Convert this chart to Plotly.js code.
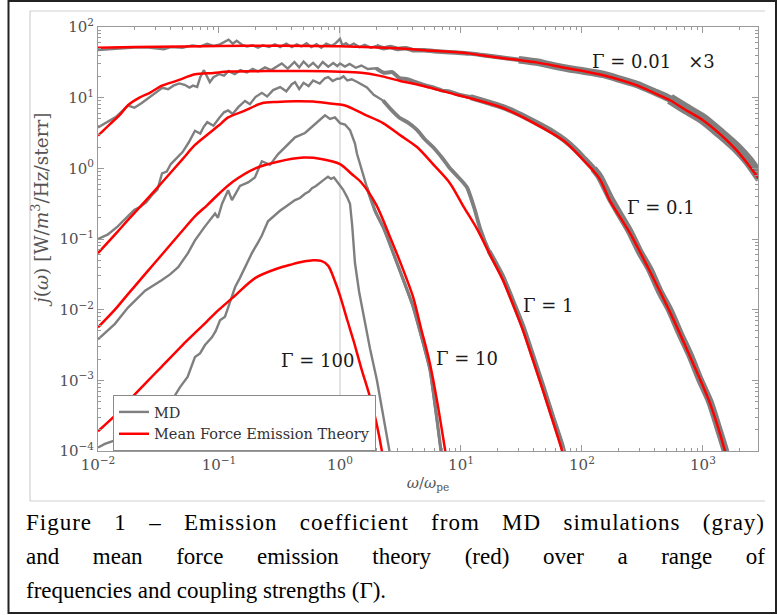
<!DOCTYPE html>
<html>
<head>
<meta charset="utf-8">
<script src="https://cdn.plot.ly/plotly-3.0.1.min.js"></script>
<style>
  html, body { margin: 0; padding: 0; background: #ffffff; }
  #chart { width: 777px; height: 615px; }
</style>
</head>
<body>
<div id="chart"></div>
<script>
// ---------------- DATA ----------------
// Mean force emission theory (red)
const thG001X = [0.01,0.02,0.05,0.1,0.3,1,3,5,10,12,20,30,42,70,100,150,285,400,534,700,1000,1400,1900,2400,2850,3000];
const thG001Y = [51,52,53,54,54.5,53.5,50,47,43.5,42,37,34,31.6,26.8,24,20.8,14.9,11.5,9.2,6.9,4.8,3.0,1.8,1.1,0.74,0.65];

const thG01X = [0.01,0.0125,0.015,0.0177,0.022,0.027,0.0338,0.045,0.0633,0.09,0.12,0.2,0.3,0.5,1,1.5,2.1,3.1,5,8,12,22,42,72,105,140,170,250,364,533,780,1140,1520,1700];
const thG01Y = [2.9,4.2,5.6,7.8,10,11.8,14.8,17.4,21.4,22.4,23.4,23.7,23.8,23.8,23.3,22.5,20.5,17.4,14.5,11.7,9.8,7.2,4.2,2.4,1.26,0.71,0.35,0.12,0.035,0.0093,0.0022,4.8e-4,1.0e-4,4.5e-5];

const thG1X = [0.01,0.0138,0.0177,0.025,0.0338,0.05,0.0633,0.08,0.1,0.119,0.16,0.226,0.3,0.425,0.6,0.8,1.1,1.6,2.27,3.2,4.33,6,8.1,10.5,13.6,17,22.2,27,32.5,40,47.6,57,68.4,76];
const thG1Y = [0.063,0.115,0.186,0.355,0.631,1.35,2.14,2.99,4.07,5.25,6.46,8.32,8.71,8.91,8.81,8.32,7.76,5.75,4.37,2.88,2.0,1.1,0.617,0.288,0.138,0.0646,0.0263,0.0117,0.00513,0.00178,7.2e-4,2.75e-4,1.02e-4,5.6e-5];

const thG10X = [0.01,0.0138,0.0177,0.025,0.0338,0.05,0.0633,0.08,0.1,0.13,0.2,0.3,0.5,0.7,1,1.25,1.5,2,2.6,3.2,4,4.7,5.5,6.4,7.4,8];
const thG10Y = [0.00562,0.01,0.0166,0.0331,0.0603,0.132,0.209,0.302,0.437,0.646,1.0,1.23,1.42,1.36,1.15,0.832,0.631,0.302,0.105,0.0437,0.0155,0.00525,0.00182,4.68e-4,1.02e-4,4.5e-5];

const thG100X = [0.01,0.0138,0.0177,0.025,0.0338,0.05,0.0633,0.08,0.1,0.13,0.2,0.3,0.4,0.5,0.6,0.7,0.8,0.9,1,1.15,1.3,1.5,1.77,2.0,2.22,2.4];
const thG100Y = [1.9e-4,3.16e-4,5.0e-4,9.3e-4,1.58e-3,3.16e-3,4.68e-3,6.9e-3,0.01,0.0148,0.0282,0.038,0.0437,0.0479,0.0501,0.049,0.0417,0.0263,0.0158,0.00708,0.00355,0.00148,5.8e-4,2.5e-4,1.0e-4,4.0e-5];

// MD simulations (gray)
const mdG001X = [0.01,0.012,0.015,0.02,0.025,0.03,0.035,0.04,0.05,0.06,0.07,0.08,0.09,0.1,0.11,0.12,0.13,0.14,0.155,0.17,0.19,0.21,0.23,0.26,0.29,0.32,0.36,0.4,0.44,0.48,0.53,0.58,0.64,0.7,0.77,0.85,0.92,1.0,1.05,1.12,1.2,1.3,1.45,1.6,1.8,2.0,2.3,2.6,3.0,3.5,4,5,6,8,10,12,16,20,30,42,60,80,100,150,200,285,400,534,700,1000,1400,1900,2400,2850,3000];
const mdG001Y = [47,48,50,51,51.5,50.5,48.5,52,51,55,53,58,54,56,61,66,58,64,56,53,55,51,55,52,57,52,58,52,57,53,59,52,57,51,58,54,59,68,55,59,54,58,52,56,51,54,50,52,49,50,47,47,45.5,44,43,42,39.5,37.5,34.5,32,28,25.5,24,21.3,18.5,15.4,12,9.6,7.2,5,3.1,1.95,1.25,0.82,0.72];

const mdG01X = [0.01,0.012,0.014,0.0177,0.02,0.023,0.027,0.031,0.034,0.038,0.042,0.047,0.052,0.057,0.061,0.066,0.07,0.075,0.079,0.084,0.09,0.1,0.11,0.12,0.135,0.15,0.17,0.19,0.21,0.24,0.27,0.3,0.33,0.37,0.42,0.46,0.5,0.55,0.6,0.66,0.72,0.8,0.88,0.95,1.0,1.1,1.2,1.35,1.5,1.7,2.0,2.3,2.7,3.1,3.6,4.3,5,6,7,8,10,12,16,22,30,42,57,72,88,105,125,140,170,200,250,300,364,440,533,650,780,950,1140,1330,1520,1650];
const mdG01Y = [3.8,4.6,5.3,7.7,7.2,8.4,10.2,12.0,13.8,13.2,14.8,15.9,15.2,13.9,14.8,14.2,19.5,24.5,20,16.6,19.5,21.5,20.5,23.8,21.5,24.5,22.8,25.5,23.5,26.8,24.6,27.5,30.5,25.8,32,26.8,32.5,27.5,31,26.5,32,27.5,31,28,30.5,27.5,30,26.5,28.5,25.5,26,22.5,23,19,18.3,16.4,15.0,13.8,12.6,12.2,10.8,10.2,8.8,7.4,5.9,4.4,3.3,2.5,1.85,1.35,0.98,0.76,0.39,0.24,0.125,0.066,0.037,0.018,0.0098,0.0045,0.0023,0.001,5e-4,2.2e-4,1.05e-4,6e-5];

const mdG1X = [0.01,0.012,0.0145,0.0177,0.02,0.022,0.025,0.028,0.031,0.0338,0.037,0.04,0.045,0.05,0.056,0.0633,0.07,0.075,0.08,0.09,0.1,0.11,0.119,0.13,0.145,0.164,0.18,0.2,0.226,0.25,0.28,0.32,0.36,0.4,0.425,0.46,0.5,0.55,0.6,0.68,0.75,0.8,0.87,0.95,1.0,1.07,1.15,1.25,1.4,1.67,1.9,2.27,2.6,3.1,3.6,4.33,5,5.87,7,8.1,9.5,11.2,13,14.4,17,22.2,27,32.5,40,47.6,57,68.4,74];
const mdG1Y = [0.10,0.115,0.15,0.21,0.26,0.28,0.33,0.42,0.5,0.85,0.9,1.15,1.4,1.7,2.3,3.4,3.1,3.9,4.5,4.0,5.1,6.2,6.6,5.9,7.4,9.0,8.1,10.2,11.7,10.4,12.8,14.1,12.3,15.5,16.6,13.2,16.2,14.6,17.5,15.8,18.8,19.5,17.2,18.5,18.6,20,17.5,18.2,16.5,14,11,9.1,7.0,5.2,4.5,3.5,2.6,2.0,1.4,1.0,0.75,0.54,0.26,0.14,0.068,0.029,0.0128,0.0058,0.002,8.2e-4,3.1e-4,1.2e-4,7e-5];

const mdG10X = [0.01,0.0138,0.0177,0.0245,0.0338,0.0394,0.046,0.0554,0.0633,0.0766,0.0928,0.098,0.106,0.119,0.128,0.149,0.174,0.198,0.226,0.264,0.307,0.351,0.425,0.514,0.622,0.752,0.827,0.909,1.0,1.1,1.21,1.33,1.38,1.67,1.95,2.27,2.49,3.13,4.01,5.54,6.83,7.2];
const mdG10Y = [0.0038,0.0063,0.0107,0.0186,0.0263,0.0316,0.0398,0.0631,0.0955,0.151,0.229,0.2,0.316,0.49,0.355,0.562,0.631,0.741,1.26,1.12,1.58,2.0,2.75,3.16,4.17,5.62,5.0,5.25,4.37,4.17,3.47,2.24,1.62,0.537,0.251,0.148,0.1,0.0355,0.0112,1.41e-3,1.02e-4,5e-5];

const mdG100X = [0.01,0.0114,0.0138,0.0183,0.0245,0.0325,0.041,0.0475,0.055,0.0633,0.0697,0.0766,0.0874,0.094,0.102,0.112,0.119,0.128,0.136,0.149,0.164,0.187,0.21,0.226,0.254,0.28,0.319,0.351,0.386,0.425,0.467,0.514,0.554,0.587,0.633,0.684,0.738,0.796,0.843,0.892,0.963,1.06,1.14,1.21,1.26,1.33,1.44,1.55,1.77,2.02,2.27,2.54,2.69];
const mdG100Y = [1.12e-4,1.26e-4,1.41e-4,1.78e-4,2.51e-4,3.55e-4,5.25e-4,7.94e-4,1.12e-3,2.14e-3,2.4e-3,3.16e-3,4.07e-3,5.0e-3,7.08e-3,7.94e-3,0.0107,0.0158,0.0209,0.0282,0.0398,0.0631,0.0891,0.112,0.178,0.209,0.251,0.282,0.316,0.355,0.38,0.437,0.468,0.525,0.562,0.631,0.692,0.759,0.708,0.741,0.631,0.501,0.398,0.316,0.158,0.0457,0.0178,8.9e-3,2.82e-3,1.0e-3,3.16e-4,1.02e-4,6.3e-5];

// Tick labels
const xTickVals = [0.01,0.1,1,10,100,1000];
const xTickText = ['10<sup>−2</sup>','10<sup>−1</sup>','10<sup>0</sup>','10<sup>1</sup>','10<sup>2</sup>','10<sup>3</sup>'];
const yTickVals = [1e-4,1e-3,1e-2,1e-1,1,10,100];
const yTickText = ['10<sup>−4</sup>','10<sup>−3</sup>','10<sup>−2</sup>','10<sup>−1</sup>','10<sup>0</sup>','10<sup>1</sup>','10<sup>2</sup>'];

// Curve labels
const gammaLabels = ['Γ = 0.01\u00a0\u00a0\u00a0×3','Γ = 0.1','Γ = 1','Γ = 10','Γ = 100'];

// Caption
const captionLines = [
  'Figure 1 – Emission coefficient from MD simulations (gray)',
  'and mean force emission theory (red) over a range of',
  'frequencies and coupling strengths (Γ).'
];

// ---------------- STYLE / POSITIONS ----------------
const GRAY = '#7f7f7f';
const RED = '#ff0000';
const SERIF = '"Liberation Serif", "Times New Roman", serif';
const CMLIKE = '"DejaVu Serif", serif';
const gammaLabelPos = [[387,32.6],[450,0.28],[52.4,0.0115],[11.2,0.00206],[0.658,0.00192]];
// noisy MD band look: [series index, from x, line width]
const bandStyle = [[0,2,4.5],[0,25,7.5],[0,500,11],[1,2,4],[1,12,6],[1,120,7.5],[2,2,3.8],[2,15,5],[3,1.5,3.2]];

const W = 777, H = 615, L = 98, R = 19, T = 27, B = 164;
const PW = W - L - R, PH = H - T - B;
const px2x = p => (p - L) / PW;
const py2y = p => (H - B - p) / PH;

const mdSets = [[mdG001X, mdG001Y],[mdG01X, mdG01Y],[mdG1X, mdG1Y],[mdG10X, mdG10Y],[mdG100X, mdG100Y]];
const thSets = [[thG001X, thG001Y],[thG01X, thG01Y],[thG1X, thG1Y],[thG10X, thG10Y],[thG100X, thG100Y]];

const traces = [];
mdSets.forEach((s, i) => {
  traces.push({x: s[0], y: s[1], type: 'scatter', mode: 'lines', name: 'MD',
    legendgroup: 'md', showlegend: i === 0, line: {color: GRAY, width: 2.4}, hoverinfo: 'skip'});
});
bandStyle.forEach(([i, from, w]) => {
  const s = mdSets[i], bx = [], by = [];
  s[0].forEach((v, k) => { if (v >= from) { bx.push(v); by.push(s[1][k]); } });
  traces.push({x: bx, y: by, type: 'scatter', mode: 'lines', name: 'MD', legendgroup: 'md',
    showlegend: false, line: {color: GRAY, width: w, shape: 'spline', smoothing: 0.6}, hoverinfo: 'skip'});
});
thSets.forEach((s, i) => {
  traces.push({x: s[0], y: s[1], type: 'scatter', mode: 'lines', name: 'Mean Force Emission Theory',
    legendgroup: 'th', showlegend: i === 0, line: {color: RED, width: 2.5, shape: 'spline', smoothing: 0.8}, hoverinfo: 'skip'});
});

const minorX = [], minorY = [];
for (let d = -2; d <= 3; d++) for (let m = 2; m <= 9; m++) minorX.push(m * Math.pow(10, d));
for (let d = -4; d <= 1; d++) for (let m = 2; m <= 9; m++) minorY.push(m * Math.pow(10, d));

const axisCommon = {
  type: 'log', showline: true, linecolor: '#9a9a9a', linewidth: 1, mirror: 'allticks',
  ticks: 'inside', ticklen: 6, tickcolor: '#9a9a9a', tickwidth: 1, showgrid: false, zeroline: false,
  tickfont: {family: CMLIKE, size: 15, color: '#505050'}, tickmode: 'array'
};

const annotations = [];
gammaLabels.forEach((t, i) => {
  annotations.push({x: Math.log10(gammaLabelPos[i][0]), y: Math.log10(gammaLabelPos[i][1]),
    xref: 'x', yref: 'y', text: t, showarrow: false, xanchor: 'center', yanchor: 'middle',
    font: {family: CMLIKE, size: 18, color: '#1a1a1a'}});
});
annotations.push({x: px2x(40), y: py2y(210), xref: 'paper', yref: 'paper', textangle: -90,
  text: '<i>j</i>(<i>ω</i>) [W/<i>m</i><sup>3</sup>/Hz/sterr]', showarrow: false,
  font: {family: CMLIKE, size: 18.5, color: '#555555'}, xanchor: 'center', yanchor: 'middle'});
const capY = [522, 556, 590];
captionLines.forEach((t, i) => {
  annotations.push({x: px2x(24), y: py2y(capY[i]), xref: 'paper', yref: 'paper', text: t,
    showarrow: false, xanchor: 'left', yanchor: 'middle', align: 'left',
    font: {family: SERIF, size: 23, color: '#000000'}});
});

const shapes = [
  {type: 'line', xref: 'x', yref: 'paper', x0: 1, x1: 1, y0: 0, y1: 1, line: {color: '#c8c8c8', width: 1}, layer: 'below'},
  {type: 'path', xref: 'paper', yref: 'paper',
    path: `M ${px2x(765)} ${py2y(11)} L ${px2x(30)} ${py2y(11)} L ${px2x(30)} ${py2y(501)} L ${px2x(765)} ${py2y(501)}`,
    line: {color: '#d0d0d0', width: 1.2}},
  {type: 'rect', xref: 'paper', yref: 'paper', x0: px2x(8.5), x1: px2x(776), y0: py2y(1), y1: py2y(613),
    line: {color: '#222222', width: 2}}
];

const layout = {
  width: W, height: H,
  margin: {l: L, r: R, t: T, b: B, pad: 0},
  paper_bgcolor: '#ffffff', plot_bgcolor: '#ffffff',
  showlegend: true,
  legend: {x: px2x(113), y: py2y(395), xanchor: 'left', yanchor: 'top', bgcolor: '#ffffff',
    bordercolor: '#8a8a8a', borderwidth: 1, font: {family: CMLIKE, size: 14.5, color: '#333333'},
    tracegroupgap: 0, itemwidth: 30},
  xaxis: Object.assign({}, axisCommon, {range: [-2, Math.log10(2850)], tickvals: xTickVals, ticktext: xTickText,
    minor: {tickmode: 'array', tickvals: minorX, ticks: 'inside', ticklen: 3, tickcolor: '#9a9a9a'},
    title: {text: '<i>ω</i>/<i>ω</i><sub>pe</sub>', font: {family: CMLIKE, size: 15, color: '#555555'}, standoff: 4}}),
  yaxis: Object.assign({}, axisCommon, {range: [-4, 2], tickvals: yTickVals, ticktext: yTickText,
    minor: {tickmode: 'array', tickvals: minorY, ticks: 'inside', ticklen: 3, tickcolor: '#9a9a9a'}}),
  annotations: annotations,
  shapes: shapes
};

Plotly.newPlot('chart', traces, layout, {staticPlot: true, displayModeBar: false}).then(gd => {
  const targetW = 765 - 26;
  gd.querySelectorAll('.annotation-text').forEach(t => {
    const s = t.textContent;
    const n = (s.match(/ /g) || []).length;
    if (s === captionLines[0]) {
      const w0 = t.getComputedTextLength();
      const ls = 1.0;
      t.style.letterSpacing = ls + 'px';
      const w1 = w0 + ls * s.length;
      t.style.wordSpacing = Math.max(0, (targetW - w1) / n) + 'px';
    } else if (s === captionLines[1]) {
      const w = t.getComputedTextLength();
      t.style.wordSpacing = ((targetW - w) / n) + 'px';
    }
  });
});
</script>
</body>
</html>
